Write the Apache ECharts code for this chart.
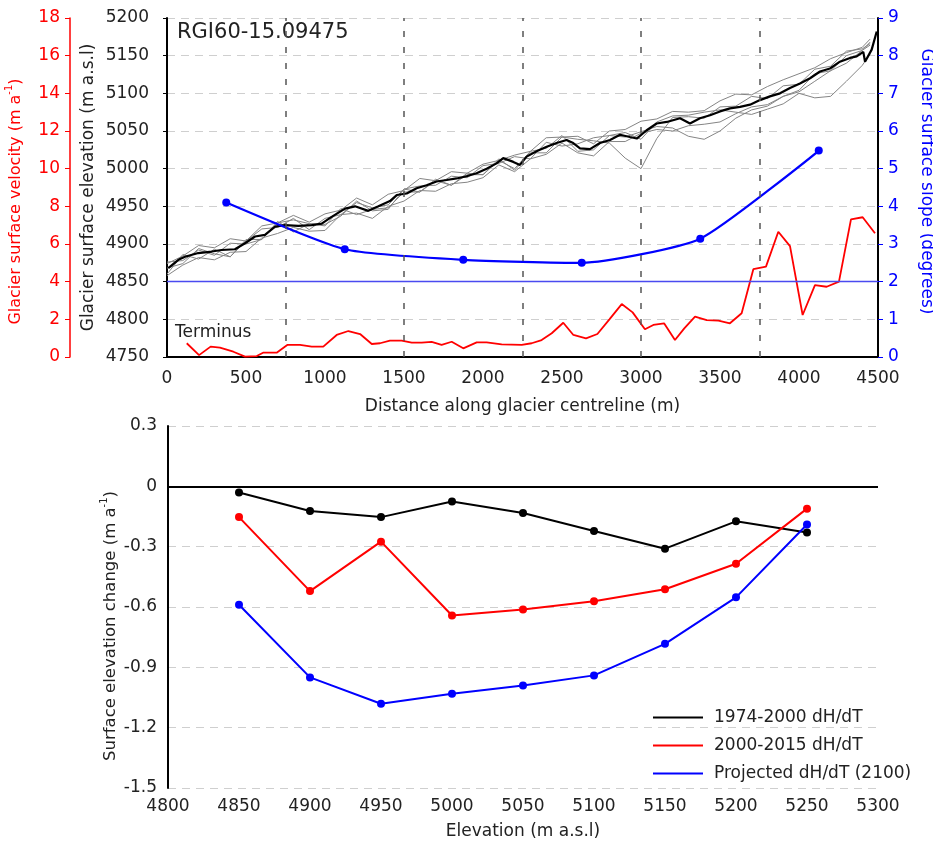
<!DOCTYPE html>
<html>
<head>
<meta charset="utf-8">
<title>RGI60-15.09475</title>
<script src="https://cdn.jsdelivr.net/npm/echarts@6.0.0/dist/echarts.min.js"></script>
<style>
  html, body { margin: 0; padding: 0; background: #fff; }
  #chart { width: 933px; height: 843px; }
</style>
</head>
<body>
<div id="chart"></div>
<script>
// ---------- top panel: long profile ----------
// mean surface elevation along centreline (m, m a.s.l.)
const meanDist = [8, 72, 114, 198, 283, 346, 430, 494, 557, 620, 684, 747, 831, 916, 979, 1042, 1127, 1190, 1274, 1338,
  1411, 1454, 1517, 1580, 1643, 1706, 1770, 1833, 1896, 1959, 2023, 2086, 2128, 2192, 2234, 2276, 2339, 2403, 2466, 2529,
  2571, 2614, 2677, 2740, 2804, 2867, 2930, 2973, 3036, 3099, 3163, 3247, 3310, 3373, 3437, 3500, 3563, 3627, 3690, 3753,
  3816, 3880, 3943, 4006, 4070, 4133, 4196, 4259, 4323, 4365, 4407, 4418, 4460, 4492];
const meanElev = [4868, 4879, 4883, 4888, 4890, 4892, 4893, 4901, 4910, 4912, 4923, 4925, 4924, 4925, 4927, 4936, 4947, 4950, 4944, 4950,
  4957, 4965, 4967, 4974, 4978, 4983, 4985, 4987, 4990, 4994, 5000, 5007, 5014, 5009, 5005, 5016, 5023, 5029, 5034, 5038,
  5034, 5027, 5026, 5034, 5038, 5045, 5042, 5040, 5051, 5060, 5062, 5067, 5060, 5067, 5071, 5076, 5080, 5082, 5085, 5091,
  5096, 5100, 5107, 5113, 5120, 5129, 5133, 5142, 5147, 5149, 5155, 5142, 5158, 5182];

// individual DEM profiles (thin grey)
const profDist = [0, 100, 200, 300, 400, 500, 600, 700, 800, 900, 1000, 1100, 1200, 1300, 1400, 1500, 1600, 1700, 1800, 1900,
  2000, 2100, 2200, 2300, 2400, 2500, 2600, 2700, 2800, 2900, 3000, 3100, 3200, 3300, 3400, 3500, 3600, 3700, 3800, 3900,
  4000, 4100, 4200, 4300, 4400, 4450];
const prof1 = [4874, 4884, 4898, 4895, 4907, 4904, 4924, 4928, 4938, 4929, 4940, 4945, 4961, 4952, 4966, 4971, 4987, 4984, 4996, 4994,
  5006, 5011, 5018, 5023, 5041, 5042, 5043, 5033, 5050, 5052, 5063, 5066, 5076, 5075, 5077, 5090, 5099, 5098, 5109, 5118,
  5126, 5134, 5146, 5154, 5161, 5172];
const prof2 = [4860, 4886, 4880, 4893, 4883, 4906, 4906, 4930, 4916, 4927, 4924, 4947, 4939, 4946, 4948, 4969, 4969, 4986, 4978, 4992,
  4992, 5013, 4998, 5021, 5021, 5042, 5039, 5037, 5034, 5014, 5000, 5040, 5068, 5069, 5067, 5082, 5083, 5096, 5093, 5110,
  5112, 5132, 5136, 5156, 5159, 5166];
const prof3 = [4868, 4874, 4894, 4887, 4883, 4904, 4920, 4922, 4934, 4919, 4934, 4939, 4955, 4948, 4952, 4973, 4969, 4984, 4978, 4994,
  4992, 5011, 5000, 5023, 5027, 5044, 5023, 5025, 5044, 5042, 5049, 5056, 5054, 5043, 5039, 5050, 5067, 5078, 5083, 5096,
  5102, 5116, 5130, 5140, 5157, 5168];
const prof4 = [4876, 4878, 4892, 4885, 4901, 4900, 4906, 4928, 4932, 4927, 4926, 4937, 4957, 4944, 4946, 4973, 4977, 4978, 4990, 4988,
  5004, 5007, 5016, 5013, 5035, 5030, 5033, 5041, 5044, 5048, 5039, 5062, 5070, 5071, 5075, 5078, 5075, 5072, 5079, 5086,
  5100, 5094, 5096, 5116, 5137, 5152];
const prof5 = [4858, 4872, 4882, 4879, 4889, 4890, 4908, 4914, 4922, 4917, 4918, 4939, 4941, 4934, 4950, 4957, 4971, 4970, 4980, 4982,
  4988, 5005, 4996, 5013, 5019, 5034, 5021, 5017, 5036, 5036, 5047, 5052, 5050, 5057, 5059, 5062, 5073, 5082, 5085, 5096,
  5104, 5126, 5130, 5150, 5157, 5164];

// surface velocity (m a-1)
const velDist = [125, 203, 276, 335, 420, 494, 568, 608, 694, 761, 842, 916, 989, 1074, 1148, 1222, 1296, 1348, 1411, 1485,
  1549, 1612, 1675, 1738, 1802, 1875, 1960, 2023, 2118, 2245, 2308, 2371, 2435, 2508, 2572, 2652, 2724, 2800, 2878, 2947,
  3025, 3078, 3146, 3215, 3274, 3342, 3416, 3490, 3563, 3637, 3711, 3791, 3869, 3943, 4023, 4101, 4175, 4253, 4329, 4403, 4481];
const velValue = [0.73, 0.1, 0.55, 0.5, 0.28, 0.02, 0.05, 0.23, 0.23, 0.64, 0.64, 0.55, 0.55, 1.17, 1.38, 1.22, 0.69, 0.73, 0.87, 0.87,
  0.76, 0.76, 0.8, 0.64, 0.81, 0.46, 0.78, 0.78, 0.67, 0.64, 0.73, 0.9, 1.26, 1.82, 1.17, 0.99, 1.22, 2.0, 2.81, 2.37,
  1.47, 1.7, 1.79, 0.9, 1.52, 2.14, 1.96, 1.93, 1.79, 2.32, 4.66, 4.8, 6.65, 5.89, 2.23, 3.82, 3.73, 4.0, 7.31, 7.42, 6.57];

// surface slope per 750 m section (degrees)
const slopeDist = [375, 1125, 1875, 2625, 3375, 4125];
const slopeDeg = [4.1, 2.86, 2.58, 2.5, 3.14, 5.48];
const sectionBreaks = [750, 1500, 2250, 3000, 3750];
const slopeRef = 2;

// ---------- bottom panel: dH/dT by elevation band ----------
const bandElev = [4850, 4900, 4950, 5000, 5050, 5100, 5150, 5200, 5250];
const dh1974 = [-0.031, -0.123, -0.153, -0.075, -0.133, -0.222, -0.31, -0.174, -0.23];
const dh2000 = [-0.153, -0.521, -0.275, -0.642, -0.612, -0.571, -0.512, -0.385, -0.111];
const dhProj = [-0.589, -0.95, -1.081, -1.031, -0.99, -0.94, -0.783, -0.552, -0.19];
const seriesNames = ['1974-2000 dH/dT', '2000-2015 dH/dT', 'Projected dH/dT (2100)'];

const FONT = 'DejaVu Sans';
const RED = '#ff0000';
const BLUE = '#0000ff';

function pairs(xs, ys) {
  return xs.map((x, i) => [x, ys[i]]);
}
const plain = v => String(v);  // no thousands separator

const chart = echarts.init(document.getElementById('chart'));

const gridDash = { color: '#cfcfcf', type: [8, 6], width: 1.2 };

// axis name with a small raised "-1"
function supName(color, shift) {
  return {
    fontFamily: FONT, fontSize: 16, color: color, lineHeight: 24,
    padding: [0, shift, 0, 0],
    rich: { sup: { fontFamily: FONT, fontSize: 10, color: color, verticalAlign: 'top', lineHeight: 12 } }
  };
}

function greyProfile(values, extra) {
  return Object.assign({
    type: 'line',
    xAxisIndex: 0,
    yAxisIndex: 0,
    data: pairs(profDist, values),
    showSymbol: false,
    lineStyle: { color: '#858585', width: 1 },
    z: 2
  }, extra || {});
}

const bottomSeries = [dh1974, dh2000, dhProj].map((vals, i) => ({
  name: seriesNames[i],
  type: 'line',
  xAxisIndex: 1,
  yAxisIndex: 3,
  data: pairs(bandElev, vals),
  symbol: 'circle',
  symbolSize: 8,
  color: ['#000000', RED, BLUE][i],
  lineStyle: { width: 2 },
  z: 5
}));
// zero line
bottomSeries[0].markLine = {
  silent: true,
  symbol: 'none',
  label: { show: false },
  data: [{ yAxis: 0, lineStyle: { color: '#000', width: 2, type: 'solid' } }]
};

const option = {
  animation: false,
  backgroundColor: '#fff',
  textStyle: { fontFamily: FONT },
  grid: [
    { left: 167, top: 18, width: 711, height: 339, outerBoundsMode: 'none' },
    { left: 168, top: 426, width: 710, height: 362, outerBoundsMode: 'none' }
  ],
  graphic: [
    { type: 'text', left: 177, top: 22, style: { text: 'RGI60-15.09475', font: '21px "DejaVu Sans"', fill: '#222' } },
    { type: 'text', left: 175, top: 324, style: { text: 'Terminus', font: '17px "DejaVu Sans"', fill: '#222' } }
  ],
  legend: {
    orient: 'vertical',
    left: 648,
    top: 704,
    itemWidth: 50,
    itemHeight: 2,
    itemGap: 11,
    icon: 'rect',
    data: seriesNames,
    textStyle: { fontFamily: FONT, fontSize: 17, color: '#222', padding: [0, 0, 0, 6] }
  },
  xAxis: [
    {
      type: 'value', gridIndex: 0, min: 0, max: 4500, interval: 500,
      name: 'Distance along glacier centreline (m)', nameLocation: 'middle', nameGap: 41, nameMoveOverlap: false,
      nameTextStyle: { fontFamily: FONT, fontSize: 17, color: '#222' },
      axisLine: { lineStyle: { color: '#000', width: 2 } },
      axisTick: { show: false },
      axisLabel: { fontFamily: FONT, fontSize: 17, color: '#222', margin: 13, formatter: plain },
      splitLine: { show: false }
    },
    {
      type: 'value', gridIndex: 1, min: 4800, max: 5300, interval: 50,
      name: 'Elevation (m a.s.l)', nameLocation: 'middle', nameGap: 35, nameMoveOverlap: false,
      nameTextStyle: { fontFamily: FONT, fontSize: 17, color: '#222' },
      axisLine: { show: false },
      axisTick: { show: false },
      axisLabel: { fontFamily: FONT, fontSize: 17, color: '#222', margin: 10, formatter: plain },
      splitLine: { show: false }
    }
  ],
  yAxis: [
    {
      type: 'value', gridIndex: 0, position: 'left', min: 4750, max: 5200, interval: 50,
      name: 'Glacier surface elevation (m a.s.l)', nameLocation: 'middle', nameGap: 70, nameMoveOverlap: false,
      nameTextStyle: { fontFamily: FONT, fontSize: 17, color: '#222' },
      axisLine: { show: true, lineStyle: { color: '#000', width: 2 } },
      axisTick: { show: true, length: 4, lineStyle: { color: '#000' } },
      axisLabel: { fontFamily: FONT, fontSize: 17, color: '#222', margin: 18, formatter: plain },
      splitLine: { show: true, lineStyle: gridDash }
    },
    {
      type: 'value', gridIndex: 0, position: 'left', offset: 97, min: 0, max: 18, interval: 2,
      name: 'Glacier surface velocity (m a{sup|-1})', nameLocation: 'middle', nameGap: 42, nameMoveOverlap: false,
      nameTextStyle: supName(RED, 28),
      axisLine: { show: true, lineStyle: { color: RED, width: 1.5 } },
      axisTick: { show: true, length: 5, lineStyle: { color: RED } },
      axisLabel: { fontFamily: FONT, fontSize: 17, color: RED, margin: 10 },
      splitLine: { show: false }
    },
    {
      type: 'value', gridIndex: 0, position: 'right', min: 0, max: 9, interval: 1,
      name: 'Glacier surface slope (degrees)', nameLocation: 'middle', nameGap: 40, nameRotate: -90, nameMoveOverlap: false,
      nameTextStyle: { fontFamily: FONT, fontSize: 17, color: BLUE, padding: [0, 12, 0, 0] },
      axisLine: { show: true, lineStyle: { color: '#000', width: 2 } },
      axisTick: { show: true, length: 5, lineStyle: { color: BLUE } },
      axisLabel: { fontFamily: FONT, fontSize: 17, color: BLUE, margin: 10 },
      splitLine: { show: false }
    },
    {
      type: 'value', gridIndex: 1, min: -1.5, max: 0.3, interval: 0.3,
      name: 'Surface elevation change (m a{sup|-1})', nameLocation: 'middle', nameGap: 45, nameMoveOverlap: false,
      nameTextStyle: Object.assign(supName('#222', 38), { fontSize: 16.5 }),
      axisLine: { show: true, lineStyle: { color: '#000', width: 2 } },
      axisTick: { show: false },
      axisLabel: { fontFamily: FONT, fontSize: 17, color: '#222', margin: 11 },
      splitLine: { show: true, lineStyle: gridDash }
    }
  ],
  series: [
    greyProfile(prof1, {
      markLine: {
        silent: true,
        symbol: 'none',
        label: { show: false },
        lineStyle: { color: '#555', width: 1.5, type: [6, 10] },
        data: sectionBreaks.map(d => ({ xAxis: d }))
      }
    }),
    greyProfile(prof2),
    greyProfile(prof3),
    greyProfile(prof4),
    greyProfile(prof5),
    {
      type: 'line', xAxisIndex: 0, yAxisIndex: 0,
      data: pairs(meanDist, meanElev),
      showSymbol: false,
      lineStyle: { color: '#000', width: 2.2 },
      z: 3
    },
    {
      type: 'line', xAxisIndex: 0, yAxisIndex: 1,
      data: pairs(velDist, velValue),
      showSymbol: false,
      lineStyle: { color: RED, width: 1.8 },
      z: 3
    },
    {
      type: 'line', xAxisIndex: 0, yAxisIndex: 2,
      data: pairs(slopeDist, slopeDeg),
      smooth: 0.18,
      symbol: 'circle',
      symbolSize: 8,
      color: BLUE,
      lineStyle: { color: BLUE, width: 2.2 },
      markLine: {
        silent: true,
        symbol: 'none',
        label: { show: false },
        data: [{ yAxis: slopeRef, lineStyle: { color: '#4a4af0', width: 1.3, type: 'solid' } }]
      },
      z: 4
    }
  ].concat(bottomSeries)
};

chart.setOption(option);
window.addEventListener('resize', chart.resize);
</script>
</body>
</html>
